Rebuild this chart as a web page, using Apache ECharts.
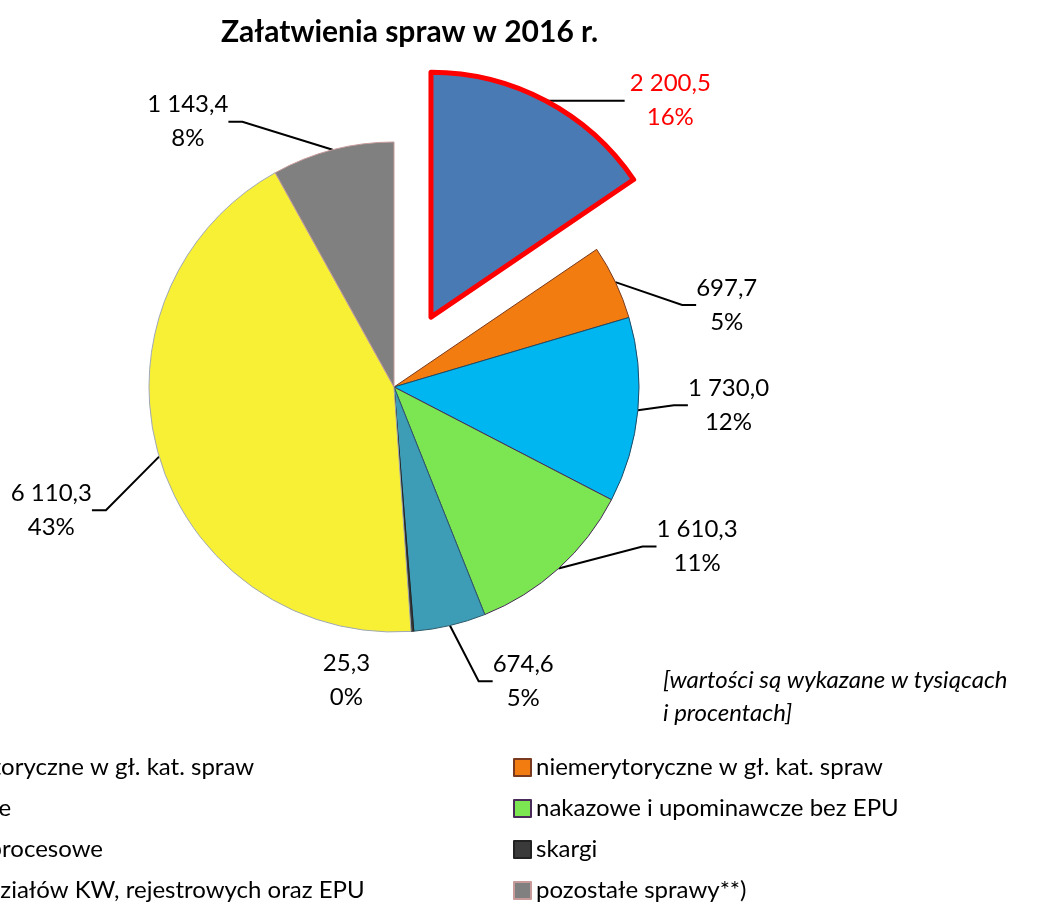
<!DOCTYPE html>
<html lang="pl">
<head>
    <meta charset="UTF-8">
    <title>Załatwienia spraw w 2016 r.</title>
    <script src="https://cdn.jsdelivr.net/npm/echarts@6/dist/echarts.min.js"></script>
</head>
<body style="margin:0;background:#fff">
    <div id="chart" style="width:1041px;height:904px;"></div>
<script type="text/javascript">
    // dane z wykresu (w tysiącach)
    var categories = ['merytoryczne w gł. kat. spraw', 'niemerytoryczne w gł. kat. spraw', 'sporne',
        'nakazowe i upominawcze bez EPU', 'pozaprocesowe', 'skargi',
        'z wydziałów KW, rejestrowych oraz EPU', 'pozostałe sprawy**)'];
    var values = [2200.5, 697.7, 1730.0, 1610.3, 674.6, 25.3, 6110.3, 1143.4];
    var colors = ['#4a7ab4', '#f27c10', '#00b6f0', '#7ce552', '#3e9db6', '#3a3a3a', '#f7f035', '#808080'];
    var borders = ['#ff0000', '#7a3a20', '#1d4a66', '#4a2a5a', '#2a5a6a', '#222222', '#a0a8b8', '#c89a9a'];
    var leftLegend = [categories[0], categories[2], categories[4], categories[6]];
    var rightLegend = [categories[1], categories[3], categories[5], categories[7]];

    // dlugosci linii etykiet i przesuniecia etykiet (null = uklad domyslny)
    var lineLen = [0, 3, 0, 0, 47, 45, 20, 29];
    var lineLen2 = [79, 14, 14, 14, 14, 14, 14, 14];
    var labelDx = [null, 59, 31, 79, 13, -112, -29, -78];
    var labelDy = [null, 24, -5, -22, 10, 4, 48, 0];

    var font = 'Lato, "Open Sans", sans-serif';

    // 1 143,4 -> format polski
    function fmt(v) {
        var s = v.toFixed(1).split('.');
        return s[0].replace(/\B(?=(\d{3})+(?!\d))/g, ' ') + ',' + s[1];
    }

    var pieData = values.map(function (v, i) {
        var item = {
            name: categories[i],
            value: v,
            itemStyle: {color: colors[i], borderColor: borders[i], borderWidth: 1},
            labelLine: {length: lineLen[i], length2: lineLen2[i]}
        };
        if (i == 0) {
            item.selected = true;
            item.itemStyle.borderWidth = 5;
            item.label = {color: '#ff0000'};
            item.select = {itemStyle: {color: colors[0], borderColor: '#ff0000', borderWidth: 5}};
        }
        if (i == 5) {
            item.labelLine.show = false;
        }
        return item;
    });

    var myChart = echarts.init(document.getElementById('chart'));
    myChart.setOption({
        animation: false,
        title: [{
            text: 'Załatwienia spraw w 2016 r.',
            left: 216, top: 12,
            textStyle: {fontFamily: font, fontSize: 30, fontWeight: 'bold', color: '#000'}
        }, {
            text: '[wartości są wykazane w tysiącach\ni procentach]',
            left: 663, top: 664, padding: 0,
            textStyle: {fontFamily: font, fontSize: 24, fontStyle: 'italic', fontWeight: 'normal',
                color: '#000', lineHeight: 33}
        }],
        legend: [{
            orient: 'vertical', left: -84, top: 754, padding: 0,
            data: leftLegend, itemWidth: 17, itemHeight: 17, itemGap: 14,
            icon: 'rect',
            textStyle: {fontFamily: font, fontSize: 24, color: '#000', lineHeight: 27}
        }, {
            orient: 'vertical', left: 513, top: 754, padding: 0,
            data: rightLegend, itemWidth: 17, itemHeight: 17, itemGap: 14,
            icon: 'rect',
            textStyle: {fontFamily: font, fontSize: 24, color: '#000', lineHeight: 27}
        }],
        series: [{
            type: 'pie',
            center: [394, 387],
            radius: [0, 245],
            startAngle: 90,
            clockwise: true,
            selectedMode: 'single',
            selectedOffset: 79,
            avoidLabelOverlap: false,
            data: pieData,
            label: {
                show: true,
                position: 'outside',
                fontFamily: font,
                fontSize: 24,
                lineHeight: 34,
                color: '#000',
                formatter: function (p) {
                    return '{c|' + fmt(p.value) + '}\n{c|' + Math.round(p.percent) + '%}';
                },
                rich: {c: {align: 'center', fontFamily: font, fontSize: 24, lineHeight: 34}}
            },
            labelLine: {
                show: true,
                lineStyle: {color: '#000', width: 2}
            },
            labelLayout: function (p) {
                var i = p.dataIndex;
                if (labelDx[i] === null) {
                    return {};
                }
                return {
                    x: p.labelRect.x + labelDx[i],
                    y: p.labelRect.y + labelDy[i],
                    align: 'left',
                    verticalAlign: 'top'
                };
            },
            emphasis: {disabled: true}
        }]
    });
</script>
</body>
</html>
